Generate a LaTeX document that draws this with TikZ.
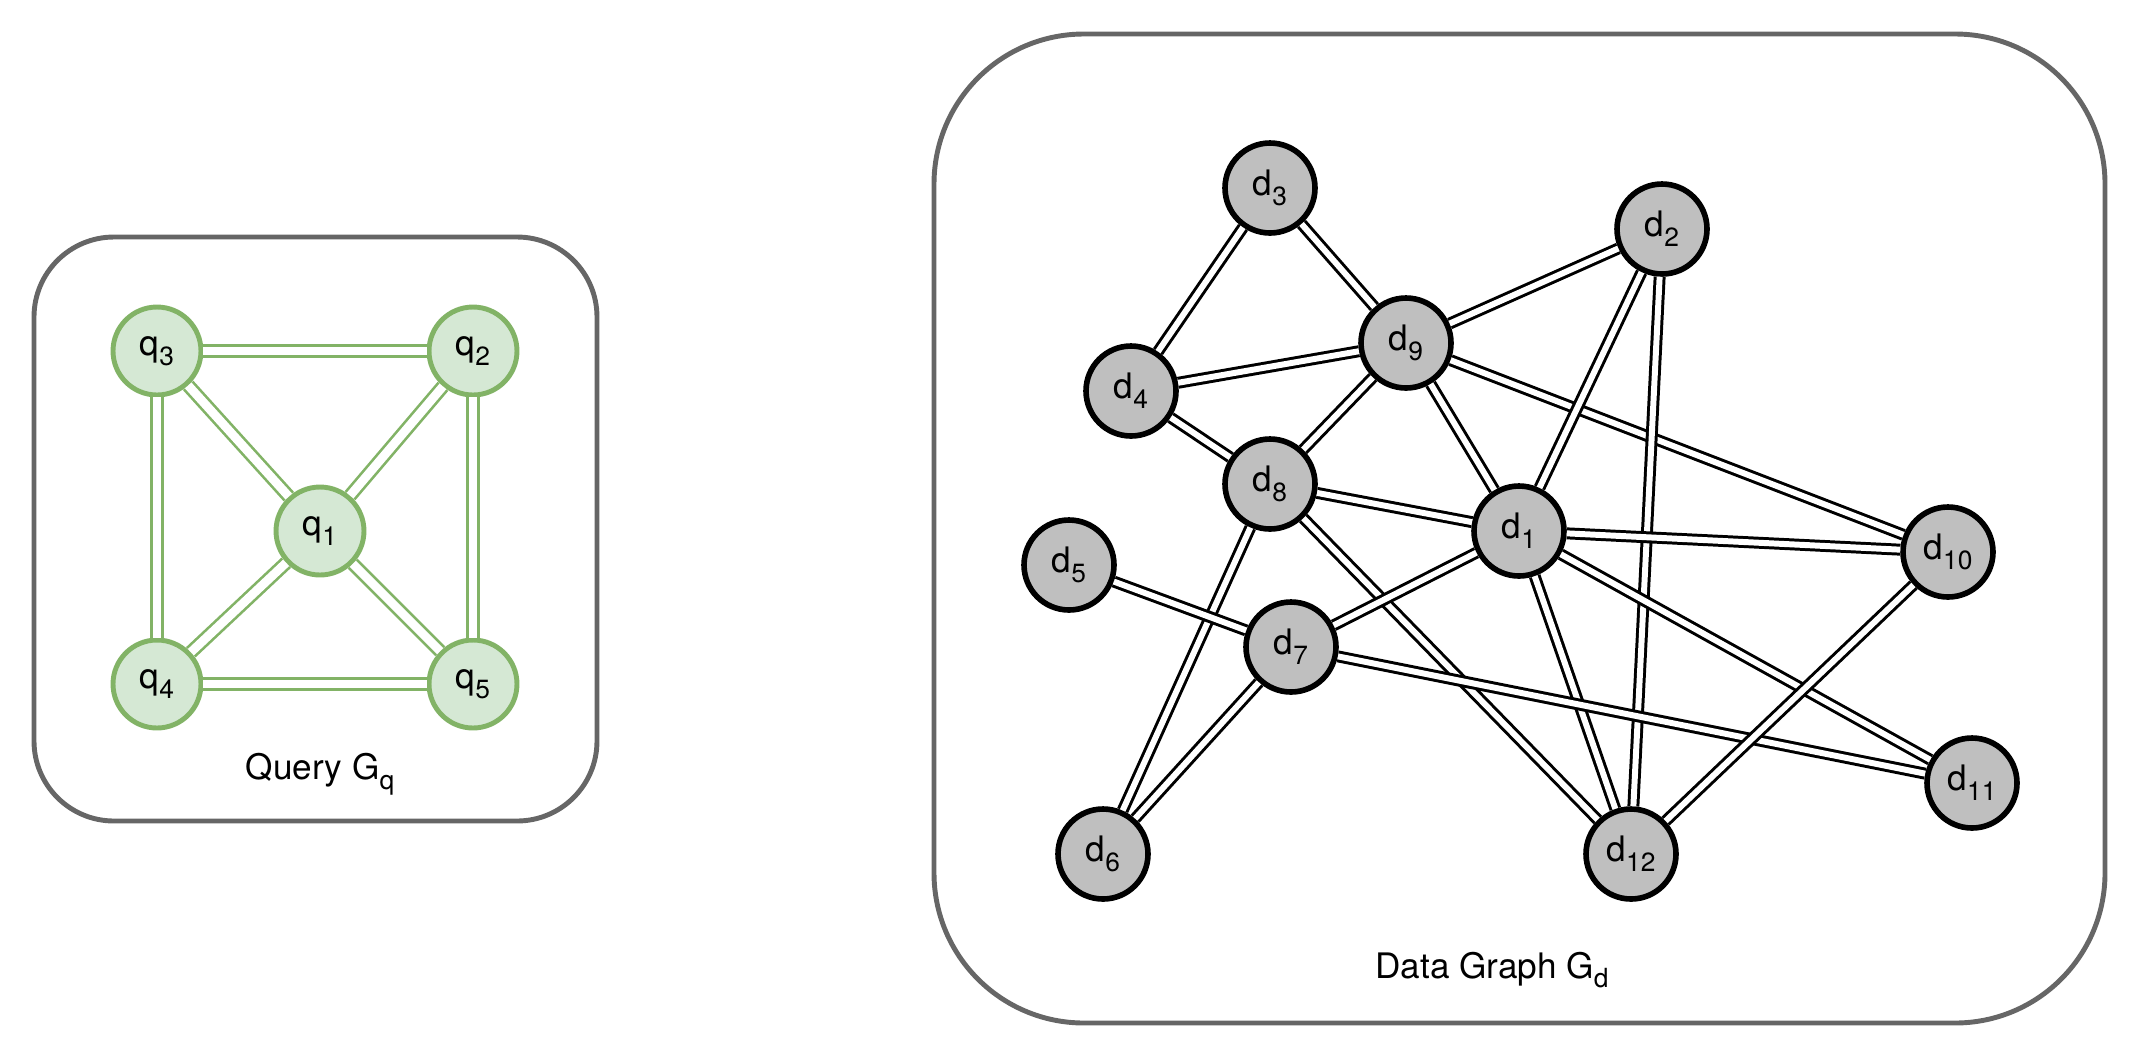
\documentclass[tikz,border=0pt]{standalone}
\usepackage{fontspec}
\setmainfont{TeX Gyre Heros}
\usetikzlibrary{positioning, backgrounds}
\definecolor{qgreen}{HTML}{82B366}
\definecolor{qfill}{HTML}{D5E8D4}
\definecolor{dfill}{HTML}{BFBFBF}
\definecolor{framegray}{HTML}{666666}
\tikzset{%
	qnode/.style={draw=qgreen, fill=qfill, circle, line width=2.8pt, minimum size=1.76cm,%
		inner sep=0mm, font=\fontsize{20}{22}\selectfont},
	dnode/.style={draw=black, fill=dfill, circle, line width=3.2pt, minimum size=1.8cm,%
		inner sep=0mm, font=\fontsize{20}{22}\selectfont},
	qedge/.style={draw=qgreen, double=white, line width=1.5pt, double distance=5pt},
	dedge/.style={draw=black, double=white, line width=1.7pt, double distance=3.4pt},
	frame/.style={draw=framegray, line width=2.8pt},
	caption/.style={font=\fontsize{20}{22}\selectfont}
}
\newcommand{\lowidx}[1]{\raisebox{-5.5pt}{\fontsize{15}{16}\selectfont #1}}

\begin{document}
\begin{tikzpicture}[x=0.02cm, y=-0.02cm]
	\useasboundingbox (0,0) rectangle (2136,1056);

	% query graph
	\draw[frame, rounded corners=1.6cm] (34,237) rectangle (597,821);
	\node[qnode] (q3) at (157,351) {q\lowidx{3}};
	\node[qnode] (q2) at (473,351) {q\lowidx{2}};
	\node[qnode] (q1) at (320,531) {q\lowidx{1}};
	\node[qnode] (q4) at (157,684) {q\lowidx{4}};
	\node[qnode] (q5) at (473,684) {q\lowidx{5}};
	\node[caption] (qlabel) at (320,774) {Query G\lowidx{q}};

	\foreach \a/\b in {q3/q2, q3/q4, q2/q5, q4/q5, q1/q3, q1/q2, q1/q4, q1/q5}
		\draw[qedge] (\a) -- (\b);

	% data graph
	\draw[frame, rounded corners=3cm] (934,34) rectangle (2105,1023);
	\node[dnode] (d3) at (1270,188) {d\lowidx{3}};
	\node[dnode] (d2) at (1662,229) {d\lowidx{2}};
	\node[dnode] (d9) at (1406,343) {d\lowidx{9}};
	\node[dnode] (d4) at (1131,391) {d\lowidx{4}};
	\node[dnode] (d8) at (1270,484) {d\lowidx{8}};
	\node[dnode] (d1) at (1519,531) {d\lowidx{1}};
	\node[dnode] (d10) at (1948,552) {d\lowidx{10}};
	\node[dnode] (d5) at (1069,565) {d\lowidx{5}};
	\node[dnode] (d7) at (1291,647) {d\lowidx{7}};
	\node[dnode] (d11) at (1972,783) {d\lowidx{11}};
	\node[dnode] (d6) at (1103,854) {d\lowidx{6}};
	\node[dnode] (d12) at (1631,854) {d\lowidx{12}};
	\node[caption] (dlabel) at (1492,970) {Data Graph G\lowidx{d}};

	\foreach \a/\b in {d3/d4, d3/d9, d9/d4, d9/d2, d9/d8, d9/d1, d9/d10, d4/d8,%
		d8/d1, d8/d6, d8/d12, d2/d1, d2/d12, d1/d10, d1/d7, d1/d12, d1/d11,%
		d5/d7, d7/d6, d7/d11, d10/d12}
		\draw[dedge] (\a) -- (\b);
\end{tikzpicture}
\end{document}
